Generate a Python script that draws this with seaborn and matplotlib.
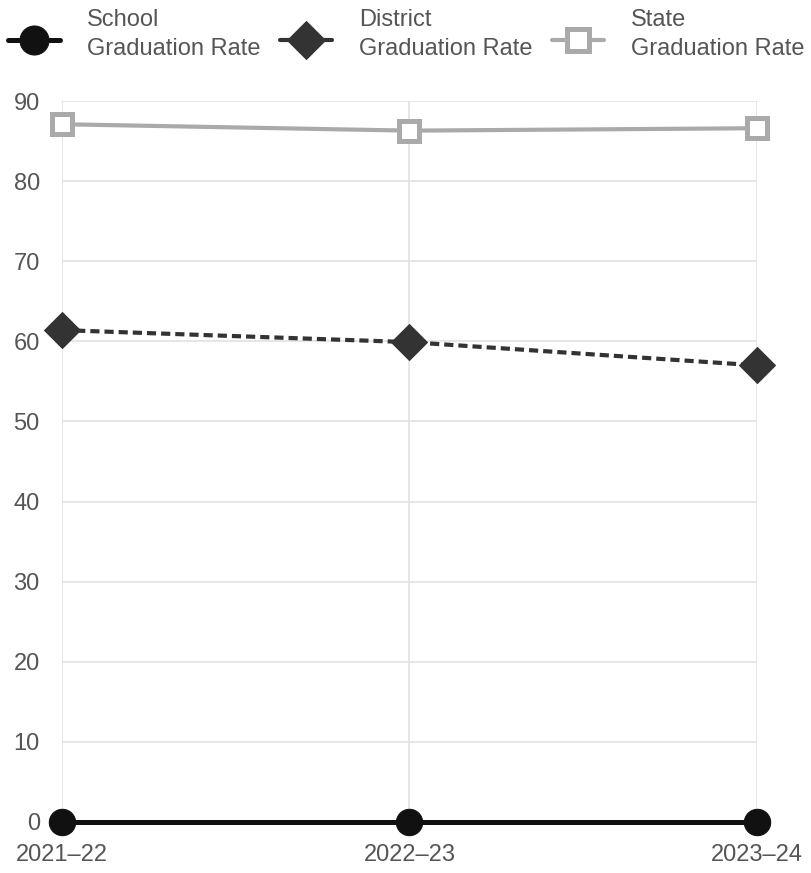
import pandas as pd
import matplotlib.pyplot as plt
import matplotlib.transforms as mtransforms
import seaborn as sns

years = ['2021–22', '2022–23', '2023–24']
school = [0, 0, 0]
district = [61.4, 59.9, 57.0]
state = [87.1, 86.3, 86.6]

df = pd.DataFrame({'pos': range(len(years)), 'year': years,
                   'school': school, 'district': district, 'state': state})

sns.set_theme(style='white')
plt.rcParams['font.family'] = ['Liberation Sans', 'DejaVu Sans']

fig = plt.figure(figsize=(8.12, 8.73), dpi=100)
ax = fig.add_axes([62 / 812, 51 / 873, 695 / 812, 721 / 873])

sns.lineplot(data=df, x='pos', y='school', ax=ax, color='#111111', lw=3.6,
             marker='o', markersize=19, markeredgecolor='#111111',
             label='School\nGraduation Rate', clip_on=False, zorder=5)
sns.lineplot(data=df, x='pos', y='district', ax=ax, color='#333333', lw=3,
             marker='D', markersize=18, markeredgecolor='#333333',
             label='District\nGraduation Rate', clip_on=False, zorder=4)
ax.lines[-1].set_dashes([2.2, 1.2])
sns.lineplot(data=df, x='pos', y='state', ax=ax, color='#aaaaaa', lw=3,
             marker='s', markersize=14.5, markerfacecolor='white',
             markeredgecolor='#aaaaaa', markeredgewidth=3.6,
             label='State\nGraduation Rate', clip_on=False, zorder=3)

ax.set_xlim(0, 2)
ax.set_ylim(0, 90)
ax.set_xticks(df['pos'])
ax.set_xticklabels(years)
ax.set_yticks(range(0, 91, 10))
ax.set_xlabel('')
ax.set_ylabel('')
ax.grid(True, color='#e2e2e2', lw=1.2)
for s in ax.spines.values():
    s.set_visible(False)
ax.tick_params(axis='both', colors='#e2e2e2', labelcolor='#555555',
               labelsize=17, length=12, width=1.2, direction='out', pad=4)
ax.tick_params(axis='x', length=14, pad=2)

handles, labels = ax.get_legend_handles_labels()
ax.get_legend().remove()
leg = fig.legend(handles, labels, loc='upper left',
                 bbox_to_anchor=(8 / 812, 1 - 9 / 873), ncol=3,
                 frameon=False, fontsize=17, handlelength=2.2,
                 handletextpad=1.15, columnspacing=0.82, labelcolor='#555555',
                 borderaxespad=0, borderpad=0)
shift = mtransforms.ScaledTranslation(0, -5 / 100, fig.dpi_scale_trans)
for h in leg.legend_handles:
    h.set_linestyle('-')
    h.set_markersize(h.get_markersize() * 1.1)
    h.set_transform(h.get_transform() + shift)
for t in leg.get_texts():
    t.set_linespacing(1.4)

fig.savefig('out.png', dpi=100)
